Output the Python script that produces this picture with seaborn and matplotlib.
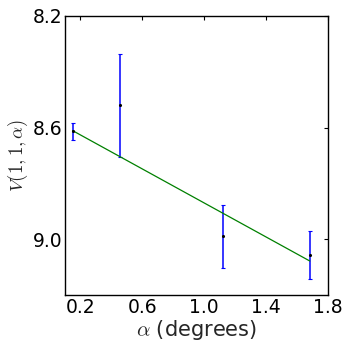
import numpy as np
import pandas as pd
import matplotlib
matplotlib.use("Agg")
import matplotlib.pyplot as plt
import seaborn as sns

alpha_deg = [0.15, 0.457, 1.121, 1.682]
v_value = [8.613, 8.520, 8.990, 9.056]
v_err = [0.030, 0.184, 0.112, 0.085]
x_ticks = [0.2, 0.6, 1.0, 1.4, 1.8]
y_ticks = [8.2, 8.6, 9.0]

sns.set_style("white")
plt.rcParams["font.family"] = ["DejaVu Sans"]
plt.rcParams["mathtext.fontset"] = "cm"

df = pd.DataFrame({"alpha": alpha_deg, "V": v_value, "err": v_err})

# weighted linear fit
coef = np.polyfit(df["alpha"], df["V"], 1, w=1.0 / df["err"])
fit_df = pd.DataFrame({"alpha": [df["alpha"].min(), df["alpha"].max()]})
fit_df["V"] = np.polyval(coef, fit_df["alpha"])

fig = plt.figure(figsize=(3.49, 3.45), dpi=100)
ax = fig.add_axes([0.186, 0.145, 0.754, 0.809])

ax.errorbar(df["alpha"], df["V"], yerr=df["err"], fmt="none", ecolor="blue",
            elinewidth=1.1, capsize=1.5, capthick=0.8, zorder=2)
sns.lineplot(data=fit_df, x="alpha", y="V", color="green", linewidth=0.9, ax=ax, zorder=3)
sns.scatterplot(data=df, x="alpha", y="V", color="black", s=5, edgecolor="black",
                linewidth=0, ax=ax, zorder=4)

ax.set_xlim(0.1, 1.8)
ax.set_ylim(9.2, 8.2)
ax.set_xticks(x_ticks)
ax.set_yticks(y_ticks)
ax.set_xticklabels([f"{t:.1f}" for t in x_ticks])
ax.set_yticklabels([f"{t:.1f}" for t in y_ticks])
ax.tick_params(direction="in", length=3, width=0.8, labelsize=13.5, top=True, right=True,
               colors="black", pad=2)
for s in ax.spines.values():
    s.set_color("black")
    s.set_linewidth(1.0)
    s.set_visible(True)

ax.set_xlabel(r"$\alpha$ (degrees)", fontsize=15, labelpad=1)
ax.set_ylabel(r"$V(1,1,\alpha)$", fontsize=13.5, labelpad=2)

fig.savefig("out.png", dpi=100)
